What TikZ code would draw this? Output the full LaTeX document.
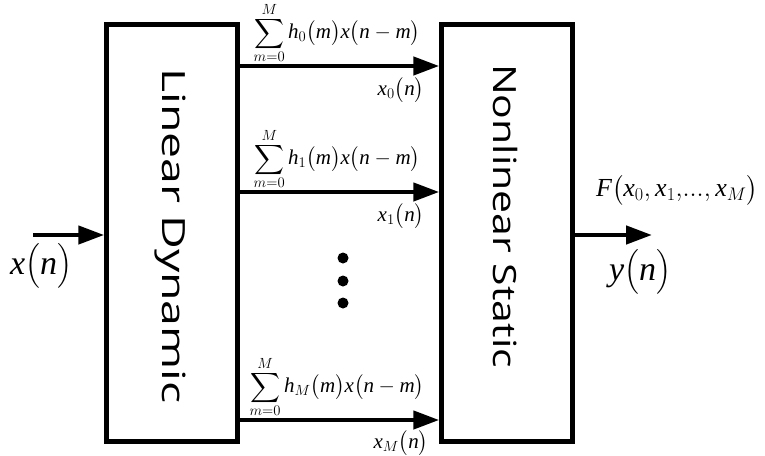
\documentclass[tikz,border=0pt]{standalone}
\usepackage{fix-cm}
\usepackage{amsmath}
\usepackage{fontspec}
\setmainfont{Liberation Serif}
\newfontfamily\sansL[FakeStretch=1.45]{Open Sans}
\newfontfamily\sansR[FakeStretch=1.28]{Open Sans}
\usetikzlibrary{arrows.meta}
\newcommand\mi[1]{\mathit{#1}}
\newcommand\sumlim{\mathop{\vcenter{\offinterlineskip\halign{\hfil##\hfil\cr
  $\scriptstyle M$\cr\noalign{\kern3pt}$\displaystyle\sum$\cr\noalign{\kern2pt}$\scriptstyle m=0$\cr}}}}
\newcommand\lp{\bigl(}
\newcommand\rp{\bigr)}
\begin{document}
\begin{tikzpicture}[x=1pt,y=-1pt,
  blk/.style={draw, line width=4.5pt, minimum width=131pt, minimum height=417pt, inner sep=0pt},
  arr/.style={line width=4.5pt, -{Triangle[length=26pt,width=18pt]}},
  lab/.style={font=\fontsize{21}{25}\selectfont, inner sep=0pt},
  biglab/.style={font=\fontsize{34}{38}\selectfont, inner sep=0pt},
  btxt/.style={font=\fontsize{32}{38}\selectfont, rotate=-90, inner sep=0pt},
  dotc/.style={circle, fill, minimum size=11pt, inner sep=0pt}]
\useasboundingbox (0,0) rectangle (765,455);
\node[blk] (L) at (172,233) {};
\node[btxt, font=\sansL\fontsize{32}{38}\selectfont] (Lt) at (170,236) {Linear Dynamic};
\node[blk] (R) at (507,233) {};
\node[btxt, font=\sansR\fontsize{32}{38}\selectfont] (Rt) at (505,216) {Nonlinear Static};
% channels
\coordinate (c0) at (0,66);
\coordinate (c1) at (0,192);
\coordinate (c2) at (0,420);
\draw[arr] (L.east |- c0) -- (R.west |- c0);
\draw[arr] (L.east |- c1) -- (R.west |- c1);
\draw[arr] (L.east |- c2) -- (R.west |- c2);
\node[lab] (s0) at (337,33) {$\sumlim\mi{h}_0\lp\mi{m}\rp\mi{x}\lp\mi{n}-\mi{m}\rp$};
\node[lab] (s1) at (337,159) {$\sumlim\mi{h}_1\lp\mi{m}\rp\mi{x}\lp\mi{n}-\mi{m}\rp$};
\node[lab] (s2) at (337,387) {$\sumlim\mi{h}_M\lp\mi{m}\rp\mi{x}\lp\mi{n}-\mi{m}\rp$};
\node[lab] (o0) at (401,90) {$\mi{x}_0\lp\mi{n}\rp$};
\node[lab] (o1) at (401,216) {$\mi{x}_1\lp\mi{n}\rp$};
\node[lab] (o2) at (401,443) {$\mi{x}_M\lp\mi{n}\rp$};
% dots
\node[dotc] (d1) at (343,258) {};
\node[dotc] (d2) at (343,281) {};
\node[dotc] (d3) at (343,303) {};
% input
\coordinate (in) at (33,235);
\draw[arr] (in) -- (L.west |- in);
\node[biglab] (xn) at (41,266) {$\mi{x}\lp\mi{n}\rp$};
% output
\coordinate (out) at (652,235);
\draw[arr] (R.east |- out) -- (out);
\node[lab, font=\fontsize{26}{30}\selectfont] (F) at (677,190) {$\mi{F}\lp\mi{x}_0,\mi{x}_1,\!...,\mi{x}_M\rp$};
\node[biglab] (yn) at (640,272) {$\mi{y}\lp\mi{n}\rp$};
\end{tikzpicture}
\end{document}
